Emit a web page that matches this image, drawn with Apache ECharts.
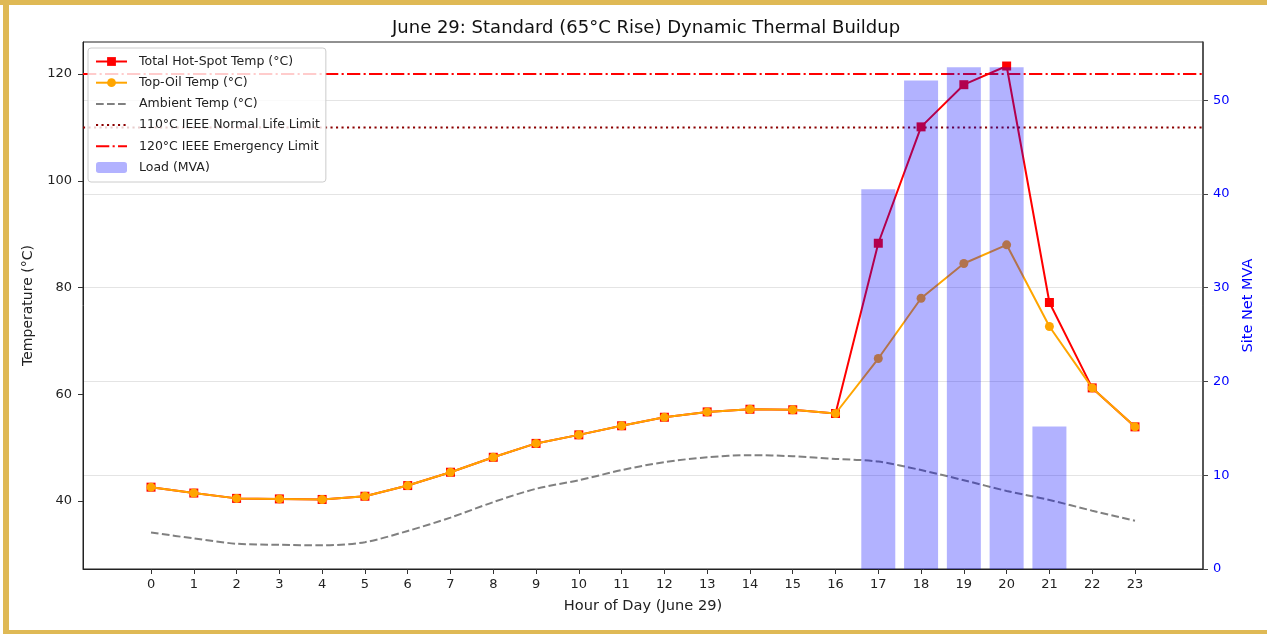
<!DOCTYPE html>
<html>
<head>
<meta charset="utf-8">
<script src="https://cdn.jsdelivr.net/npm/echarts@6/dist/echarts.min.js"></script>
<style>
  html, body { margin: 0; padding: 0; background: #fff; }
  #wrap { position: relative; width: 1267px; height: 634px; overflow: hidden; }
  #chart { position: absolute; left: 0; top: 0; width: 1267px; height: 634px; }
  .gold { position: absolute; background: #dfb955; }
</style>
</head>
<body>
<div id="wrap">
  <div id="chart"></div>
  <div class="gold" style="left:0;top:0;width:1267px;height:5px;"></div>
  <div class="gold" style="left:3px;top:0;width:6px;height:634px;"></div>
  <div class="gold" style="left:3px;top:630px;width:1264px;height:4px;"></div>
</div>
<script>
// hours of the day
const hours = [0,1,2,3,4,5,6,7,8,9,10,11,12,13,14,15,16,17,18,19,20,21,22,23];

// temperatures (°C)
const hotSpot = [42.6,41.5,40.5,40.4,40.3,40.9,42.9,45.4,48.2,50.8,52.4,54.1,55.7,56.7,57.2,57.1,56.4,88.3,110.1,118.0,121.5,77.2,61.2,53.9];
const topOil  = [42.6,41.5,40.5,40.4,40.3,40.9,42.9,45.4,48.2,50.8,52.4,54.1,55.7,56.7,57.2,57.1,56.4,66.7,78.0,84.5,88.0,72.7,61.2,53.9];
const ambient = [34.1,33.0,32.0,31.8,31.7,32.3,34.4,36.9,39.8,42.3,43.9,45.8,47.3,48.2,48.6,48.4,47.9,47.4,45.8,43.9,41.9,40.2,38.2,36.3];

// site load (MVA)
const loadMva = [0,0,0,0,0,0,0,0,0,0,0,0,0,0,0,0,0,40.5,52.1,53.5,53.5,15.2,0,0];

// IEEE limits
const normalLimit = 110;
const emergencyLimit = 120;

// axis ranges / ticks
const xRange = [-1.59, 24.59];
const tempRange = [27.27, 126.0];
const tempTicks = [40, 60, 80, 100, 120];
const mvaRange = [0, 56.2];
const mvaTicks = [0, 10, 20, 30, 40, 50];

const FONT = 'DejaVu Sans';
const pair = (arr) => hours.map((h, i) => [h, arr[i]]);
const hline = (v) => [[xRange[0], v], [xRange[1], v]];

var chart = echarts.init(document.getElementById('chart'));
var option = {
  animation: false,
  textStyle: { fontFamily: FONT },
  title: {
    text: 'June 29: Standard (65°C Rise) Dynamic Thermal Buildup',
    left: 387,
    top: 14,
    textStyle: { fontFamily: FONT, fontSize: 18, fontWeight: 'normal', color: '#111' }
  },
  legend: {
    orient: 'vertical',
    left: 88,
    top: 48,
    padding: [6, 6, 7, 7],
    itemGap: 6.2,
    itemWidth: 31,
    itemHeight: 11,
    backgroundColor: 'rgba(255,255,255,0.8)',
    borderColor: '#cccccc',
    borderWidth: 1,
    borderRadius: 3,
    z: 10,
    textStyle: { fontFamily: FONT, fontSize: 12.5, color: '#222', lineHeight: 15, padding: [0, 0, 0, 7] },
    data: [
      'Total Hot-Spot Temp (°C)',
      'Top-Oil Temp (°C)',
      { name: 'Ambient Temp (°C)', itemStyle: { opacity: 0 } },
      { name: '110°C IEEE Normal Life Limit', itemStyle: { opacity: 0 } },
      { name: '120°C IEEE Emergency Limit', itemStyle: { opacity: 0 } },
      'Load (MVA)'
    ]
  },
  grid: { left: 83, right: 64, top: 42, bottom: 65, show: true, borderColor: '#222', borderWidth: 1 },
  xAxis: {
    type: 'value',
    min: xRange[0],
    max: xRange[1],
    name: 'Hour of Day (June 29)',
    nameLocation: 'middle',
    nameGap: 30,
    nameTextStyle: { fontFamily: FONT, fontSize: 14.6, color: '#222' },
    axisLine: { show: true, onZero: false, lineStyle: { color: '#222', width: 1 } },
    axisTick: { show: true, length: 5, lineStyle: { color: '#333' }, customValues: hours },
    axisLabel: { fontFamily: FONT, fontSize: 13, color: '#222', margin: 9, customValues: hours },
    splitLine: { show: false }
  },
  yAxis: [
    {
      type: 'value',
      min: tempRange[0],
      max: tempRange[1],
      name: 'Temperature (°C)',
      nameLocation: 'middle',
      nameGap: 48,
      nameTextStyle: { fontFamily: FONT, fontSize: 14, color: '#222' },
      axisLine: { show: true, onZero: false, lineStyle: { color: '#222', width: 1 } },
      axisTick: { show: true, length: 5, lineStyle: { color: '#333' }, customValues: tempTicks },
      axisLabel: { fontFamily: FONT, fontSize: 13, color: '#222', margin: 11, customValues: tempTicks },
      splitLine: { show: false }
    },
    {
      type: 'value',
      position: 'right',
      min: mvaRange[0],
      max: mvaRange[1],
      interval: 10,
      name: 'Site Net MVA',
      nameLocation: 'middle',
      nameGap: 35,
      nameTextStyle: { fontFamily: FONT, fontSize: 14.5, color: '#0000ff' },
      axisLine: { show: true, onZero: false, lineStyle: { color: '#444', width: 1.5 } },
      axisTick: { show: true, length: 5, lineStyle: { color: '#444' }, customValues: mvaTicks },
      axisLabel: { fontFamily: FONT, fontSize: 13, color: '#0000ff', margin: 10, customValues: mvaTicks },
      splitLine: { show: true, lineStyle: { color: '#e4e4e4', width: 1 } }
    }
  ],
  series: [
    {
      name: 'Total Hot-Spot Temp (°C)',
      type: 'line',
      yAxisIndex: 0,
      data: pair(hotSpot),
      symbol: 'rect',
      symbolSize: 9,
      lineStyle: { color: '#ff0000', width: 2 },
      itemStyle: { color: '#ff0000' },
      z: 2
    },
    {
      name: 'Top-Oil Temp (°C)',
      type: 'line',
      yAxisIndex: 0,
      data: pair(topOil),
      symbol: 'circle',
      symbolSize: 9,
      lineStyle: { color: '#ffa500', width: 2 },
      itemStyle: { color: '#ffa500' },
      z: 3
    },
    {
      name: 'Ambient Temp (°C)',
      type: 'line',
      yAxisIndex: 0,
      data: pair(ambient),
      symbol: 'none',
      smooth: 0.3,
      lineStyle: { color: '#808080', width: 2, type: [7.7, 3.3] },
      itemStyle: { color: '#808080' },
      z: 2
    },
    {
      name: '110°C IEEE Normal Life Limit',
      type: 'line',
      yAxisIndex: 0,
      data: hline(normalLimit),
      symbol: 'none',
      lineStyle: { color: '#8b0000', width: 2, type: [2.1, 3.4] },
      itemStyle: { color: '#8b0000' },
      z: 2
    },
    {
      name: '120°C IEEE Emergency Limit',
      type: 'line',
      yAxisIndex: 0,
      data: hline(emergencyLimit),
      symbol: 'none',
      lineStyle: { color: '#ff0000', width: 2, type: [13.3, 3.3, 2.1, 3.3] },
      itemStyle: { color: '#ff0000' },
      z: 2
    },
    {
      name: 'Load (MVA)',
      type: 'bar',
      yAxisIndex: 1,
      data: pair(loadMva),
      barWidth: 34,
      itemStyle: { color: 'rgba(0,0,255,0.3)' },
      z: 5
    }
  ]
};
chart.setOption(option);
</script>
</body>
</html>
